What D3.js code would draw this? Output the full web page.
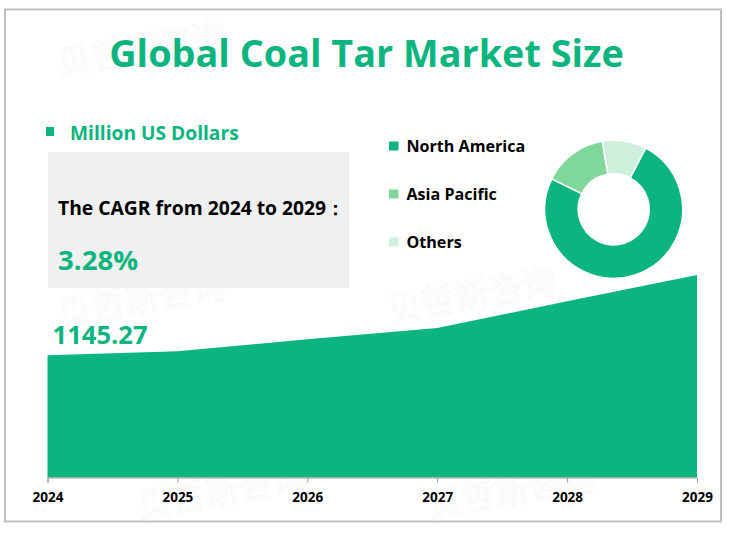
<!DOCTYPE html>
<html><head><meta charset="utf-8">
<script src="https://cdn.jsdelivr.net/npm/d3@7"></script>
<style>html,body{margin:0;padding:0;background:#fff}svg{display:block}text{font-family:"Open Sans","Noto Sans",sans-serif}</style>
</head><body><svg id="c" width="731" height="533"></svg>
<script>
const years=[2024,2025,2026,2027,2028,2029];
const marketSize=[1145.27,1155,1185,1213,1280,1345.27];
const regions=["North America","Asia Pacific","Others"];
const shares=[74.6,15.1,10.3];
const regionColors=["#0cb580","#80d79a","#cdf0dc"];
const titleText="Global Coal Tar Market Size";
const unitText="Million US Dollars";
const cagrLabel="The CAGR from 2024 to 2029：";
const cagrValue="3.28%";
const firstLabel="1145.27";
const watermarkText="贝哲斯咨询";
const green="#0cb580";

const svg=d3.select("#c");
svg.append("rect").attr("x",5).attr("y",9.5).attr("width",716).attr("height",512).attr("fill","#fff").attr("stroke","#bfbfbf").attr("stroke-width",2);

const watermarkAnchors=[[60,76],[60,326],[390,322],[140,518],[430,518]];
svg.append("g").selectAll("text").data(watermarkAnchors).join("text")
  .attr("transform",d=>`translate(${d[0]},${d[1]}) rotate(-10)`)
  .attr("font-size",34).attr("fill","none").attr("stroke","#f8f8f8").attr("stroke-width",1)
  .style("font-family",'"Noto Sans CJK SC",sans-serif').text(watermarkText);

svg.append("text").attr("x",366.5).attr("y",67).attr("text-anchor","middle").attr("fill",green)
  .attr("font-size",37.8).attr("font-weight",700).text(titleText);

svg.append("rect").attr("x",46).attr("y",127).attr("width",8).attr("height",9).attr("fill",green);
svg.append("text").attr("x",70).attr("y",140).attr("fill",green).attr("font-size",19.2).attr("font-weight",700).text(unitText);

svg.append("rect").attr("x",48).attr("y",152).attr("width",301).attr("height",136).attr("fill","#f0f0f0");
svg.append("text").attr("x",58).attr("y",215).attr("fill","#000").attr("font-size",19.3).attr("font-weight",700).text(cagrLabel);
svg.append("text").attr("x",58).attr("y",270).attr("fill",green).attr("font-size",27.6).attr("font-weight",700).text(cagrValue);

const x=d3.scalePoint().domain(years).range([47.5,697]);
const y=d3.scaleLinear().domain([840,1345.27]).range([477.5,275]);
const area=d3.area().x((d,i)=>x(years[i])).y0(y(840)).y1(d=>y(d));
svg.append("path").datum(marketSize).attr("d",area).attr("fill",green);

const axis=d3.axisBottom(x).tickSize(5).tickPadding(10).tickFormat(d3.format("d"));
const ax=svg.append("g").attr("transform","translate(0,477.5)").call(axis);
ax.selectAll("path,line").attr("stroke","#999").attr("stroke-width",1);
ax.selectAll("text").attr("fill","#000").attr("font-size",13.5).attr("font-weight",700).style("font-family",'"Open Sans",sans-serif');

svg.append("text").attr("x",52.5).attr("y",344).attr("fill",green).attr("font-size",25.6).attr("font-weight",700).text(firstLabel);

const legendY=d3.scalePoint().domain(regions).range([146,242]);
const lg=svg.append("g").selectAll("g").data(regions).join("g").attr("transform",d=>`translate(0,${legendY(d)})`);
lg.append("rect").attr("x",389).attr("y",-4.5).attr("width",9.5).attr("height",9).attr("fill",(d,i)=>regionColors[i]);
lg.append("text").attr("x",406.5).attr("y",6).attr("fill","#000").attr("font-size",16.1).attr("font-weight",700).text(d=>d);

const start=27.6*Math.PI/180;
const pie=d3.pie().sort(null).startAngle(start).endAngle(start+2*Math.PI);
const arc=d3.arc().innerRadius(35.5).outerRadius(69);
svg.append("g").attr("transform","translate(613.7,209.3)").selectAll("path").data(pie(shares)).join("path")
  .attr("d",arc).attr("fill",(d,i)=>regionColors[i]).attr("stroke","#fff").attr("stroke-width",1.5);
</script></body></html>
